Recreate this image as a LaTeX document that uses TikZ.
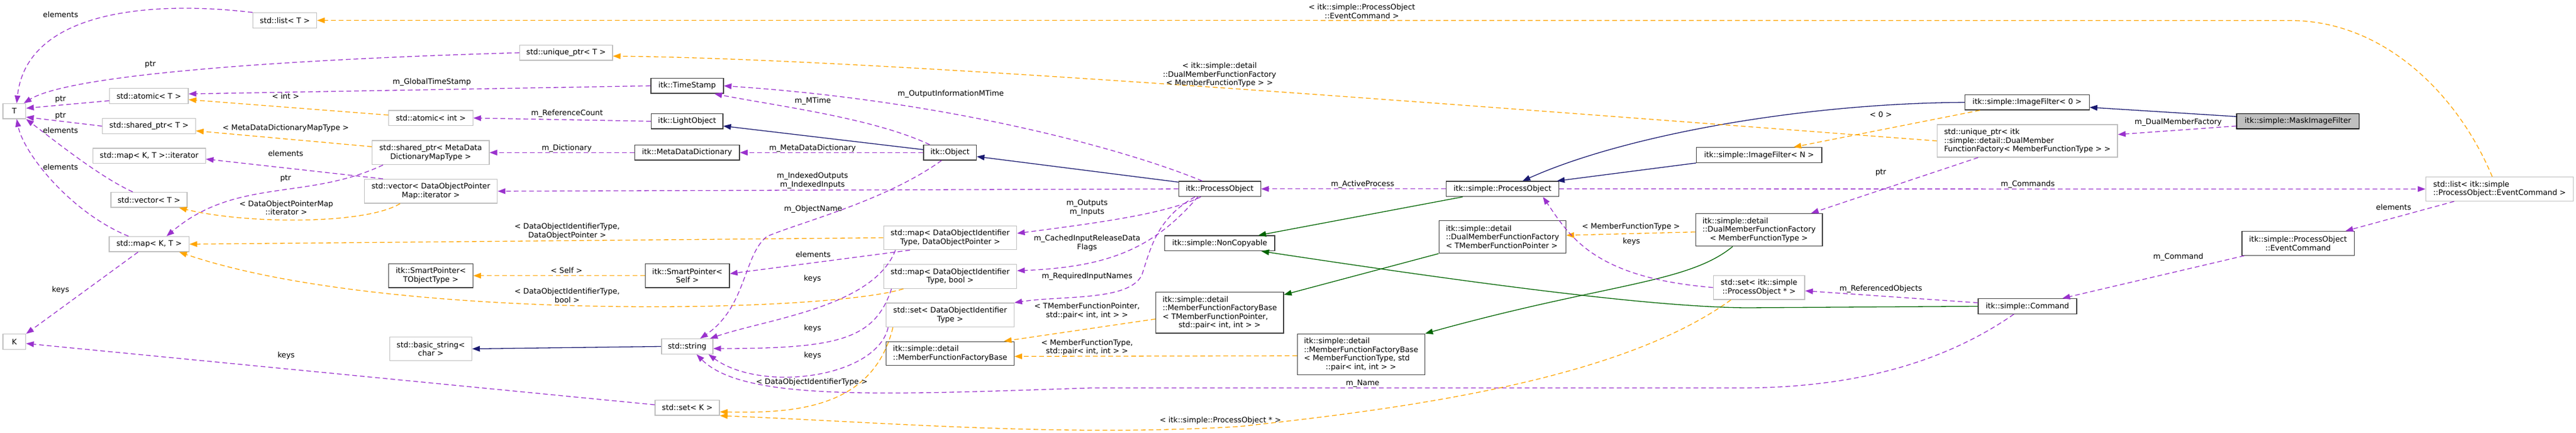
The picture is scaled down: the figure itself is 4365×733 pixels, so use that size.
\documentclass[tikz,border=0pt]{standalone}
\usepackage{fontspec}
\setmainfont{DejaVu Sans}
\usepackage{xcolor}
\usetikzlibrary{arrows.meta}
\definecolor{usecol}{HTML}{9A32CD}
\definecolor{tplcol}{HTML}{FFA500}
\definecolor{pubcol}{HTML}{191970}
\definecolor{procol}{HTML}{006400}
\definecolor{docbox}{HTML}{404040}
\definecolor{extbox}{HTML}{BFBFBF}
\tikzset{%
	cls/.style={rectangle,draw=docbox,line width=1.4,fill=white,minimum height=25.5,inner xsep=5,inner ysep=1,font=\fontsize{12.8}{14.5}\selectfont,align=center},
	ext/.style={cls,draw=extbox},
	cur/.style={cls,fill=extbox,draw=black},
	lbl/.style={inner sep=0,font=\fontsize{12.8}{14.5}\selectfont,text height=9.5,text depth=2.7},
	lbl2/.style={inner sep=0,font=\fontsize{12.8}{14.5}\selectfont,align=center},
	tip/.style={arrows={-Triangle[length=13,width=9.5]}},
	usage/.style={tip,color=usecol,line width=1.3,dash pattern=on 8pt off 5pt},
	tmpl/.style={tip,color=tplcol,line width=1.3,dash pattern=on 8pt off 5pt},
	inh/.style={tip,color=pubcol,line width=1.3},
	prot/.style={tip,color=procol,line width=1.3},
}
\begin{document}
\begin{tikzpicture}[x=1pt,y=-1pt]
	\useasboundingbox (0,0) rectangle (4365,733);
	\node (T) at (24.3,188.2) [ext,minimum width=38.6] {T};
	\node (K) at (24.3,578.5) [ext,minimum width=38.6] {K};
	\node (listT) at (482.7,34.5) [ext,minimum width=108] {std::list< T >};
	\node (atomT) at (252.3,162.5) [ext,minimum width=133.2] {std::atomic< T >};
	\node (shT) at (252.5,213.5) [ext,minimum width=157.8] {std::shared\_ptr< T >};
	\node (mapit) at (252.7,263.8) [ext,minimum width=191] {std::map< K, T >::iterator};
	\node (vecT) at (252.5,338.3) [ext,minimum width=129.3] {std::vector< T >};
	\node (mapKT) at (252.7,413.3) [ext,minimum width=135.4] {std::map< K, T >};
	\node (uniqT) at (959.2,89.3) [ext,minimum width=157.2] {std::unique\_ptr< T >};
	\node (atomInt) at (730,199.8) [ext,minimum width=142.8] {std::atomic< int >};
	\node (shMD) at (729.8,258.3) [ext,minimum width=198.2,minimum height=40.5] {std::shared\_ptr< MetaData\\DictionaryMapType >};
	\node (vecDOP) at (730,323.7) [ext,minimum width=225.4,minimum height=40.5] {std::vector< DataObjectPointer\\Map::iterator >};
	\node (spTObj) at (730,466.7) [cls,minimum width=142.8,minimum height=40.5] {itk::SmartPointer<\\TObjectType >};
	\node (bstr) at (730,590.5) [ext,minimum width=139,minimum height=40.5] {std::basic\_string<\\char >};
	\node (stamp) at (1164.3,145.3) [cls,minimum width=123] {itk::TimeStamp};
	\node (light) at (1164.3,205.3) [cls,minimum width=121.3] {itk::LightObject};
	\node (mdd) at (1164.2,258.3) [cls,minimum width=177.7] {itk::MetaDataDictionary};
	\node (spSelf) at (1164.7,466.7) [cls,minimum width=142.8,minimum height=40.5] {itk::SmartPointer<\\Self >};
	\node (str) at (1164.4,586.5) [ext,minimum width=87] {std::string};
	\node (setK) at (1164.6,690.2) [ext,minimum width=109] {std::set< K >};
	\node (obj) at (1609.8,258.3) [cls,minimum width=89.3] {itk::Object};
	\node (mapDOP) at (1610,402.5) [ext,minimum width=225.5,minimum height=40.5] {std::map< DataObjectIdentifier\\Type, DataObjectPointer >};
	\node (mapBool) at (1610,468) [ext,minimum width=225.5,minimum height=40.5] {std::map< DataObjectIdentifier\\Type, bool >};
	\node (setDOI) at (1610,533.3) [ext,minimum width=216.5,minimum height=40.5] {std::set< DataObjectIdentifier\\Type >};
	\node (mffb) at (1610,598.5) [cls,minimum width=216.5,minimum height=40.5,align=left] {itk::simple::detail\\::MemberFunctionFactoryBase};
	\node (itkPO) at (2066.8,319.8) [cls,minimum width=138.8] {itk::ProcessObject};
	\node (noncopy) at (2066.8,411.8) [cls,minimum width=186.7] {itk::simple::NonCopyable};
	\node (mffbT) at (2066.8,529.3) [cls,minimum width=216.3,minimum height=69.3,align=left] {itk::simple::detail\\::MemberFunctionFactoryBase\\< TMemberFunctionPointer,\\\hspace*{27pt}std::pair< int, int > >};
	\node (mffbMFT) at (2306.4,599.8) [cls,minimum width=215.8,minimum height=69,align=left] {itk::simple::detail\\::MemberFunctionFactoryBase\\< MemberFunctionType, std\\\hspace*{36.8pt}::pair< int, int > >};
	\node (sPO) at (2546,319.8) [cls,minimum width=191] {itk::simple::ProcessObject};
	\node (dmffT) at (2545.9,401) [cls,minimum width=215.2,minimum height=55.3,align=left] {itk::simple::detail\\::DualMemberFunctionFactory\\< TMemberFunctionPointer >};
	\node (ifN) at (2980.7,262.5) [cls,minimum width=212.3] {itk::simple::ImageFilter< N >};
	\node (dmffM) at (2980.7,389.2) [cls,minimum width=214.7,minimum height=55,align=left] {itk::simple::detail\\::DualMemberFunctionFactory\\\hspace*{12.5pt}< MemberFunctionType >};
	\node (setPO) at (2980.7,486.7) [ext,minimum width=154.9,minimum height=40.5] {std::set< itk::simple\\::ProcessObject * >};
	\node (if0) at (3434.9,173.3) [cls,minimum width=210.6] {itk::simple::ImageFilter< 0 >};
	\node (uptrD) at (3435.3,238.5) [ext,minimum width=305.6,minimum height=55,align=left] {std::unique\_ptr< itk\\::simple::detail::DualMember\\FunctionFactory< MemberFunctionType > >};
	\node (cmd) at (3435.4,518.5) [cls,minimum width=166.9] {itk::simple::Command};
	\node (mask) at (3893.7,205.3) [cur,minimum width=207.2] {itk::simple::MaskImageFilter};
	\node (evcmd) at (3894,412) [cls,minimum width=190.5,minimum height=40.5] {itk::simple::ProcessObject\\::EventCommand};
	\node (listEC) at (4235.5,320) [ext,minimum width=250,minimum height=40.5,align=left] {std::list< itk::simple\\::ProcessObject::EventCommand >};
	
	\draw[usage] (listT.north west) .. controls (250,0) and (45,20) .. ([xshift=4pt]T.north);
	\draw[tmpl] ([xshift=-12.5pt]listEC.north) .. controls (4165,160) and (4040,34.7) .. (3880,34.7) -- (listT.east);
	\draw[usage] (uniqT.west) .. controls (500,100) and (120,125) .. ([xshift=-4pt]T.north east);
	\draw[usage] ([yshift=-8pt]atomT.west) -- ([yshift=5pt]T.east);
	\draw[usage] (stamp.west) -- ([yshift=3.5pt]atomT.east);
	\draw[tmpl] ([yshift=5pt]atomInt.west) -- ([yshift=-6.2pt]atomT.east);
	\draw[usage] (shT.west) -- ([yshift=-10pt]T.east);
	\draw[tmpl] ([yshift=10pt]shMD.west) -- ([yshift=-8pt]shT.east);
	\draw[usage] (light.west) -- (atomInt.east);
	\draw[usage] (mdd.west) -- (shMD.east);
	\draw[usage] ([xshift=-27.5pt]vecT.north) .. controls (170,300) and (95,240) .. (T.south east);
	\draw[usage] ([xshift=-35pt]mapKT.north) .. controls (120,360) and (40,260) .. ([xshift=4pt]T.south);
	\draw[usage] ([xshift=-81pt]vecDOP.north) -- ([yshift=-5.5pt]mapit.east);
	\draw[tmpl] ([xshift=-52pt]vecDOP.south) .. controls (620,380) and (420,380) .. ([xshift=51pt]vecT.south);
	\draw[usage] ([xshift=-80.7pt]shMD.south) .. controls (520,340) and (400,300) .. ([xshift=29.5pt]mapKT.north);
	\draw[tmpl] (mapDOP.west) -- (mapKT.east);
	\draw[tmpl] ([xshift=-79.3pt]mapBool.south) .. controls (1400,530) and (650,545) .. ([xshift=51pt]mapKT.south);
	\draw[tmpl] (spSelf.west) -- (spTObj.east);
	\draw[usage] ([xshift=-68pt]mapDOP.south) -- ([yshift=3.4pt]spSelf.east);
	\draw[usage] ([xshift=-14.4pt]obj.south) .. controls (1500,340) and (1360,375) .. (1300,400) .. controls (1260,430) and (1265,520) .. ([xshift=22pt]str.north);
	\draw[usage] ([xshift=-92.7pt]mapDOP.south) .. controls (1480,520) and (1300,540) .. ([xshift=-5.5pt]str.north east);
	\draw[usage] ([xshift=-99.4pt]mapBool.south) .. controls (1482,575) and (1420,590) .. ([yshift=-3.5pt]str.east);
	\draw[usage] ([xshift=-105pt]setDOI.south) .. controls (1485,640) and (1290,665) .. ([xshift=-8pt]str.south east);
	\draw[usage] ([xshift=-23pt]cmd.south) .. controls (3300,610) and (3150,656.7) .. (2950,656.7) -- (1850,656.7) .. controls (1500,668) and (1260,680) .. ([xshift=16pt]str.south);
	\draw[tmpl] ([xshift=-97pt]setDOI.south) .. controls (1480,690) and (1350,700) .. ([yshift=-7pt]setK.east);
	\draw[tmpl] ([xshift=-47.7pt]setPO.south) .. controls (2750,640) and (2400,690) .. (2100,722) .. controls (1800,740) and (1500,715) .. (setK.south east);
	\draw[inh] ([yshift=5pt]obj.west) -- ([yshift=-8pt]light.east);
	\draw[usage] ([xshift=-34.4pt]obj.north) .. controls (1480,200) and (1320,180) .. ([xshift=-16pt]stamp.south east);
	\draw[usage] (obj.west) -- (mdd.east);
	\draw[inh] ([yshift=11.5pt]itkPO.west) -- ([yshift=-6.7pt]obj.east);
	\draw[usage] ([xshift=-29.6pt]itkPO.north) .. controls (1900,250) and (1600,170) .. (stamp.east);
	\draw[usage] (itkPO.west) -- (vecDOP.east);
	\draw[usage] ([xshift=-32pt]itkPO.south) .. controls (1980,360) and (1880,375) .. ([yshift=7.5pt]mapDOP.east);
	\draw[usage] ([xshift=-37pt]itkPO.south) .. controls (1955,420) and (1880,452) .. ([yshift=9.7pt]mapBool.east);
	\draw[usage] ([xshift=-42pt]itkPO.south) .. controls (1960,370) and (1950,420) .. (1935,465) .. controls (1915,510) and (1800,500) .. (setDOI.north east);
	\draw[usage] (sPO.west) -- (itkPO.east);
	\draw[prot] ([xshift=-67.4pt]sPO.south) -- ([xshift=-28.6pt]noncopy.north east);
	\draw[inh] (if0.west) .. controls (3050,175) and (2750,230) .. ([xshift=34pt]sPO.north);
	\draw[inh] (ifN.south west) -- ([xshift=-4pt]sPO.north east);
	\draw[inh] ([yshift=8pt]mask.west) -- ([yshift=-8.4pt]if0.east);
	\draw[tmpl] ([xshift=-80pt]if0.south) -- ([xshift=58.5pt]ifN.north);
	\draw[usage] ([yshift=-8pt]mask.west) -- ([yshift=10.8pt]uptrD.east);
	\draw[usage] ([xshift=-83.3pt]uptrD.south) -- ([xshift=-20pt]dmffM.north east);
	\draw[tmpl] (uptrD.west) .. controls (2500,180) and (1500,100) .. ([yshift=-5.7pt]uniqT.east);
	\draw[usage] (sPO.east) -- (listEC.west);
	\draw[usage] ([xshift=-77pt]listEC.south) -- ([xshift=-15.6pt]evcmd.north east);
	\draw[usage] ([xshift=4.6pt]evcmd.south west) -- ([xshift=59.2pt]cmd.north);
	\draw[usage] ([yshift=6pt]cmd.west) -- ([yshift=-5.6pt]setPO.east);
	\draw[prot] (cmd.west) -- (2960,521) .. controls (2800,520) and (2500,480) .. ([xshift=-23.5pt]noncopy.south east);
	\draw[prot] ([xshift=-44.8pt]dmffM.south) .. controls (2860,480) and (2720,480) .. (mffbMFT.north east);
	\draw[prot] (dmffT.south west) -- ([yshift=-5pt]mffbT.north east);
	\draw[tmpl] ([yshift=-3.5pt]dmffM.west) -- ([yshift=2.7pt]dmffT.east);
	\draw[usage] (setPO.west) .. controls (2700,470) and (2660,400) .. ([xshift=68.4pt]sPO.south);
	\draw[tmpl] ([yshift=-10.7pt]mffbT.west) -- ([xshift=-17.8pt]mffb.north east);
	\draw[tmpl] ([yshift=-2.5pt]mffbMFT.west) -- ([yshift=-4.8pt]mffb.east);
	\draw[usage] ([xshift=-18.8pt]mapKT.south) -- (K.north east);
	\draw[usage] ([yshift=5pt]setK.west) -- ([yshift=-3pt]K.east);
	\draw[inh] (str.west) -- (bstr.east);
	
	\node (l1) at (102.7,26.5) [lbl] {elements};
	\node (l2) at (2307.6,19.2) [lbl2] {< itk::simple::ProcessObject\\::EventCommand >};
	\node (l3) at (254.6,109.2) [lbl] {ptr};
	\node (l4) at (2066.5,126.7) [lbl2] {< itk::simple::detail\\::DualMemberFunctionFactory\\< MemberFunctionType > >};
	\node (l5) at (102.5,167.8) [lbl] {ptr};
	\node (l6) at (731.7,139.2) [lbl] {m\_GlobalTimeStamp};
	\node (l7) at (483.9,164) [lbl] {< int >};
	\node (l8) at (102.5,195.8) [lbl] {ptr};
	\node (l9) at (484.2,217.5) [lbl] {< MetaDataDictionaryMapType >};
	\node (l10) at (960.9,192.5) [lbl] {m\_ReferenceCount};
	\node (l11) at (960.3,251) [lbl] {m\_Dictionary};
	\node (l12) at (102.5,222.5) [lbl] {elements};
	\node (l13) at (102.5,284.2) [lbl] {elements};
	\node (l14) at (484,260.8) [lbl] {elements};
	\node (l15) at (485.1,351.7) [lbl2] {< DataObjectPointerMap\\::iterator >};
	\node (l16) at (484,302.5) [lbl] {ptr};
	\node (l17) at (961,391.7) [lbl2] {< DataObjectIdentifierType,\\DataObjectPointer >};
	\node (l18) at (961,500) [lbl2] {< DataObjectIdentifierType,\\bool >};
	\node (l19) at (960,459.2) [lbl] {< Self >};
	\node (l20) at (1377.8,432.5) [lbl] {elements};
	\node (l21) at (1376.7,472.5) [lbl] {keys};
	\node (l22) at (1377,555.8) [lbl] {keys};
	\node (l23) at (1377,602.5) [lbl] {keys};
	\node (l24) at (1375.6,647.5) [lbl] {< DataObjectIdentifierType >};
	\node (l25) at (1377.8,354.2) [lbl] {m\_ObjectName};
	\node (l26) at (1377.3,170.8) [lbl] {m\_MTime};
	\node (l27) at (1376.7,250.8) [lbl] {m\_MetaDataDictionary};
	\node (l28) at (1611.1,159.2) [lbl] {m\_OutputInformationMTime};
	\node (l29) at (1376.7,305.8) [lbl2] {m\_IndexedOutputs\\m\_IndexedInputs};
	\node (l30) at (1842,351.7) [lbl2] {m\_Outputs\\m\_Inputs};
	\node (l31) at (1842,411.7) [lbl2] {m\_CachedInputReleaseData\\Flags};
	\node (l32) at (1842,468.3) [lbl] {m\_RequiredInputNames};
	\node (l33) at (1842,526.7) [lbl2] {< TMemberFunctionPointer,\\ std::pair< int, int > >};
	\node (l34) at (1842,588) [lbl2] {< MemberFunctionType,\\ std::pair< int, int > >};
	\node (l35) at (2308.9,312.5) [lbl] {m\_ActiveProcess};
	\node (l36) at (2309,649.2) [lbl] {m\_Name};
	\node (l37) at (2067.9,711.8) [lbl] {< itk::simple::ProcessObject * >};
	\node (l38) at (3187,195) [lbl] {< 0 >};
	\node (l39) at (3187,291.7) [lbl] {ptr};
	\node (l40) at (3436,312.5) [lbl] {m\_Commands};
	\node (l41) at (3690.9,206.7) [lbl] {m\_DualMemberFactory};
	\node (l42) at (4055.9,352.5) [lbl] {elements};
	\node (l43) at (3691,435) [lbl] {m\_Command};
	\node (l44) at (3187,489.2) [lbl] {m\_ReferencedObjects};
	\node (l45) at (2763.6,384.2) [lbl] {< MemberFunctionType >};
	\node (l46) at (2764.5,409.2) [lbl] {keys};
	\node (l47) at (102.7,490.8) [lbl] {keys};
	\node (l48) at (484.8,602.5) [lbl] {keys};
\end{tikzpicture}
\end{document}
